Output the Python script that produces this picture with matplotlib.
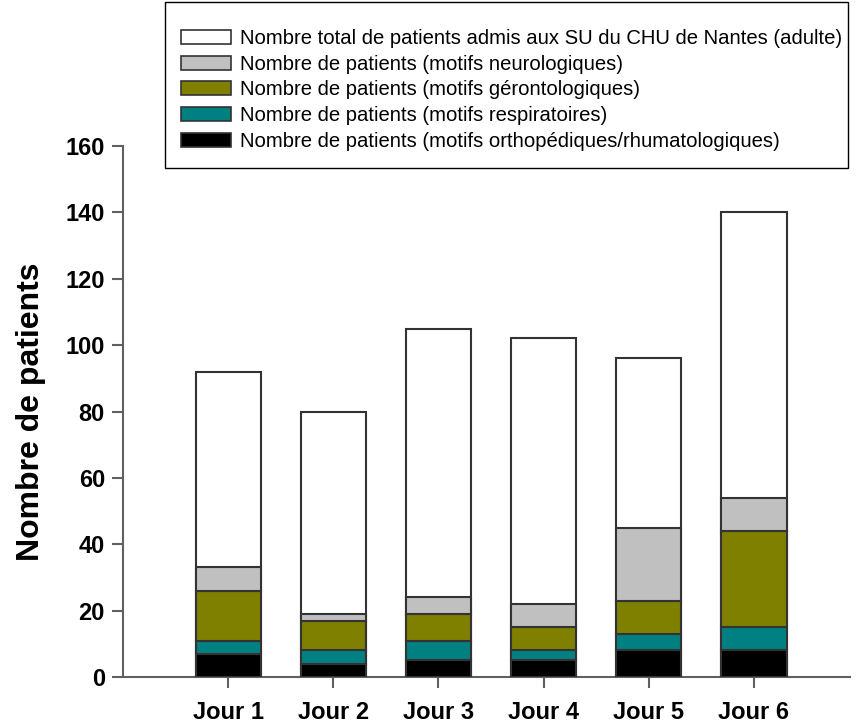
import matplotlib
matplotlib.use("Agg")
import matplotlib.pyplot as plt
from matplotlib.patches import Patch, Rectangle
import numpy as np

plt.rcParams['font.family'] = ['Liberation Sans', 'DejaVu Sans']

days = ["Jour 1", "Jour 2", "Jour 3", "Jour 4", "Jour 5", "Jour 6"]
total = [92, 80, 105, 102, 96, 140]
ortho = [7, 4, 5, 5, 8, 8]
resp = [4, 4, 6, 3, 5, 7]
geronto = [15, 9, 8, 7, 10, 29]
neuro = [7, 2, 5, 7, 22, 10]

labels = [
    "Nombre total de patients admis aux SU du CHU de Nantes (adulte)",
    "Nombre de patients (motifs neurologiques)",
    "Nombre de patients (motifs gérontologiques)",
    "Nombre de patients (motifs respiratoires)",
    "Nombre de patients (motifs orthopédiques/rhumatologiques)",
]
colors = ["#FFFFFF", "#C0C0C0", "#808000", "#008080", "#000000"]
edge = "#333333"

fig = plt.figure(figsize=(8.6, 7.22), dpi=100)
ax = fig.add_axes([0.143, 0.0623, 0.845, 0.7355])

x = np.arange(len(days))
w = 0.62
ax.bar(x, total, w, color=colors[0], edgecolor=edge, linewidth=1.5, zorder=2)
bottom = np.zeros(len(days))
for vals, c in [(ortho, colors[4]), (resp, colors[3]), (geronto, colors[2]), (neuro, colors[1])]:
    ax.bar(x, vals, w, bottom=bottom, color=c, edgecolor=edge, linewidth=1.5, zorder=3)
    bottom += np.array(vals)

ax.set_xlim(-1.0, 5.91)
ax.set_ylim(0, 160)
ax.set_yticks(np.arange(0, 161, 20))
ax.set_xticks(x)
ax.set_xticklabels(days, fontsize=17, fontweight='bold')
for t in ax.get_yticklabels():
    t.set_fontsize(17)
    t.set_fontweight('bold')
ax.set_ylabel("Nombre de patients", fontsize=23, fontweight='bold', labelpad=14)

for s in ['top', 'right']:
    ax.spines[s].set_visible(False)
for s in ['left', 'bottom']:
    ax.spines[s].set_color('#606060')
    ax.spines[s].set_linewidth(1.5)
ax.tick_params(axis='both', direction='out', length=8, width=1.5, color='#606060', pad=5)
ax.tick_params(axis='x', pad=9)

# legend frame
fig.patches.append(Rectangle((165 / 860, 1 - 168 / 722), (848 - 165) / 860, 166 / 722,
                             transform=fig.transFigure, facecolor='white',
                             edgecolor='black', linewidth=1.0, zorder=5))
handles = [Patch(facecolor=c, edgecolor=edge, linewidth=1.2) for c in colors]
leg = fig.legend(handles, labels, loc='upper left',
                 bbox_to_anchor=(181 / 860, 1 - 29 / 722),
                 fontsize=14.6, frameon=False,
                 handlelength=2.46, handleheight=0.69,
                 handletextpad=0.45, labelspacing=0.33, borderpad=0,
                 borderaxespad=0)
leg.set_zorder(6)

fig.savefig("out.png", dpi=100)
